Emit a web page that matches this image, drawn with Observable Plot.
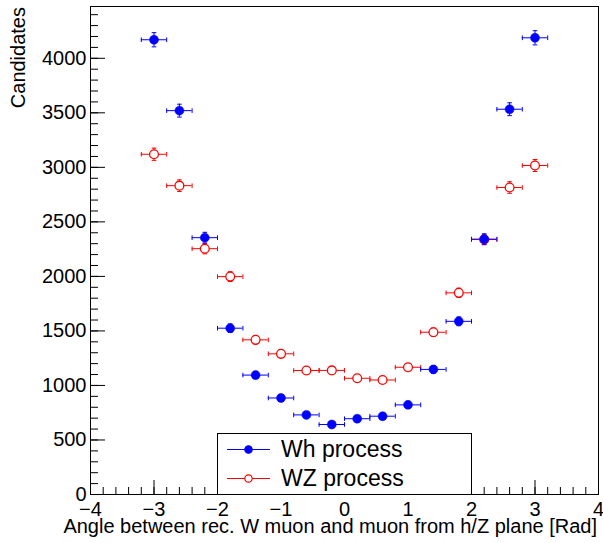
<!DOCTYPE html>
<html><head><meta charset="utf-8">
<script src="https://cdn.jsdelivr.net/npm/d3@7"></script>
<script src="https://cdn.jsdelivr.net/npm/@observablehq/plot@0.6"></script>
<style>
body{margin:0;background:#fff}
#chart{position:relative;width:603px;height:543px}
</style>
</head><body><div id="chart"></div>
<script>
// ---- data ----
const binCenters = [-3.0,-2.6,-2.2,-1.8,-1.4,-1.0,-0.6,-0.2,0.2,0.6,1.0,1.4,1.8,2.2,2.6,3.0];
const binHalfWidth = 0.2;
const whValues = [4170,3520,2355,1525,1095,885,730,642,695,718,822,1147,1588,2342,3533,4188];
const whErrors = [65,59,49,39,33,30,27,25,26,27,29,34,40,48,59,65];
const wzValues = [3120,2832,2254,1998,1418,1290,1137,1138,1066,1050,1167,1488,1849,2338,2815,3017];
const wzErrors = [56,53,47,45,38,36,34,34,33,32,34,39,43,48,53,55];
const xMajorTicks = [-4,-3,-2,-1,0,1,2,3,4];
const xMinorTicks = d3.range(-4, 4.001, 0.2).map(v => +v.toFixed(1));
const yMajorTicks = [0,500,1000,1500,2000,2500,3000,3500,4000];
const yMinorTicks = d3.range(0, 4401, 100);
const xTitle = "Angle between rec. W muon and muon from h/Z plane [Rad]";
const yTitle = "Candidates";
const seriesNames = ["Wh process", "WZ process"];
const seriesColors = ["#0000ff", "#ff0000"];

const wh = binCenters.map((x, i) => ({x, v: whValues[i], e: whErrors[i]}));
const wz = binCenters.map((x, i) => ({x, v: wzValues[i], e: wzErrors[i]}));

const W = 603, H = 543, mL = 90, mR = 5, mT = 6, mB = 49;
const innerW = W - mL - mR, innerH = H - mT - mB;
const font = "'Liberation Sans', Arial, Helvetica, sans-serif";

const vCap = {draw(ctx, size) { const r = Math.sqrt(size / Math.PI); ctx.moveTo(0, -r); ctx.lineTo(0, r); }};
const hCap = {draw(ctx, size) { const r = Math.sqrt(size / Math.PI); ctx.moveTo(-r, 0); ctx.lineTo(r, 0); }};

function errorMarks(data, color) {
  return [
    Plot.ruleY(data, {y: "v", x1: d => d.x - binHalfWidth, x2: d => d.x + binHalfWidth, stroke: color, strokeWidth: 1}),
    Plot.ruleX(data, {x: "x", y1: d => d.v - d.e, y2: d => d.v + d.e, stroke: color, strokeWidth: 1}),
    Plot.dot(data, {x: d => d.x - binHalfWidth, y: "v", symbol: vCap, r: 2.3, fill: "none", stroke: color, strokeWidth: 1}),
    Plot.dot(data, {x: d => d.x + binHalfWidth, y: "v", symbol: vCap, r: 2.3, fill: "none", stroke: color, strokeWidth: 1}),
    Plot.dot(data, {x: "x", y: d => d.v - d.e, symbol: hCap, r: 2.3, fill: "none", stroke: color, strokeWidth: 1}),
    Plot.dot(data, {x: "x", y: d => d.v + d.e, symbol: hCap, r: 2.3, fill: "none", stroke: color, strokeWidth: 1})
  ];
}

const plot = Plot.plot({
  width: W, height: H,
  marginLeft: mL, marginRight: mR, marginTop: mT, marginBottom: mB,
  style: {fontFamily: font, background: "white", color: "black"},
  x: {domain: [-4, 4]},
  y: {domain: [0, 4475]},
  marks: [
    // ticks inside the frame
    Plot.tickX(xMinorTicks, {x: d => d, insetTop: innerH - 7, stroke: "black"}),
    Plot.tickX(xMajorTicks, {x: d => d, insetTop: innerH - 14, stroke: "black"}),
    Plot.tickY(yMinorTicks, {y: d => d, insetRight: innerW - 8, stroke: "black"}),
    Plot.tickY(yMajorTicks, {y: d => d, insetRight: innerW - 15, stroke: "black"}),
    Plot.axisX({ticks: xMajorTicks, tickSize: 0, tickPadding: 7, fontSize: 20, label: null, anchor: "bottom"}),
    Plot.axisY({ticks: yMajorTicks, tickSize: 0, tickPadding: 4, fontSize: 20, label: null, anchor: "left", tickFormat: d => String(d)}),
    // WZ series
    ...errorMarks(wz, seriesColors[1]),
    Plot.dot(wz, {x: "x", y: "v", r: 4.4, fill: "white", stroke: seriesColors[1], strokeWidth: 1.3}),
    // Wh series
    ...errorMarks(wh, seriesColors[0]),
    Plot.dot(wh, {x: "x", y: "v", r: 4.5, fill: seriesColors[0], stroke: seriesColors[0], strokeWidth: 0.5}),
    Plot.frame({stroke: "black", strokeWidth: 1})
  ]
});
document.getElementById("chart").appendChild(plot);

const svg = d3.select(plot);
const xs = plot.scale("x");

// legend box (x from -2 to 2 in axis units)
const lx0 = xs.apply(-2), lx1 = xs.apply(2);
const ly1 = H - mB, ly0 = 433;
const g = svg.append("g").attr("text-anchor", "start");
g.append("rect").attr("x", lx0 + 0.5).attr("y", ly0 + 0.5)
  .attr("width", lx1 - lx0).attr("height", ly1 - ly0)
  .attr("fill", "white").attr("stroke", "black").attr("stroke-width", 1);
const rows = [449, 478];
seriesNames.forEach((name, i) => {
  const cy = rows[i];
  g.append("line").attr("x1", lx0 + 10).attr("x2", lx0 + 53).attr("y1", cy + 0.5).attr("y2", cy + 0.5)
    .attr("stroke", seriesColors[i]).attr("stroke-width", 1);
  g.append("circle").attr("cx", lx0 + 31.5).attr("cy", cy + 0.5).attr("r", 3.7)
    .attr("fill", i === 0 ? seriesColors[i] : "white").attr("stroke", seriesColors[i]).attr("stroke-width", 1.2);
  g.append("text").attr("x", lx0 + 64).attr("y", cy + 7.5).attr("text-anchor", "start")
    .attr("font-family", font).attr("font-size", 23).attr("fill", "black").text(name);
});

// axis titles
svg.append("text").attr("x", W - 6).attr("y", 533).attr("text-anchor", "end")
  .attr("font-family", font).attr("font-size", 20).attr("fill", "black").text(xTitle);
svg.append("text").attr("transform", `translate(25,${mT + 1}) rotate(-90)`).attr("text-anchor", "end")
  .attr("font-family", font).attr("font-size", 20).attr("fill", "black").text(yTitle);
</script>
</body></html>
